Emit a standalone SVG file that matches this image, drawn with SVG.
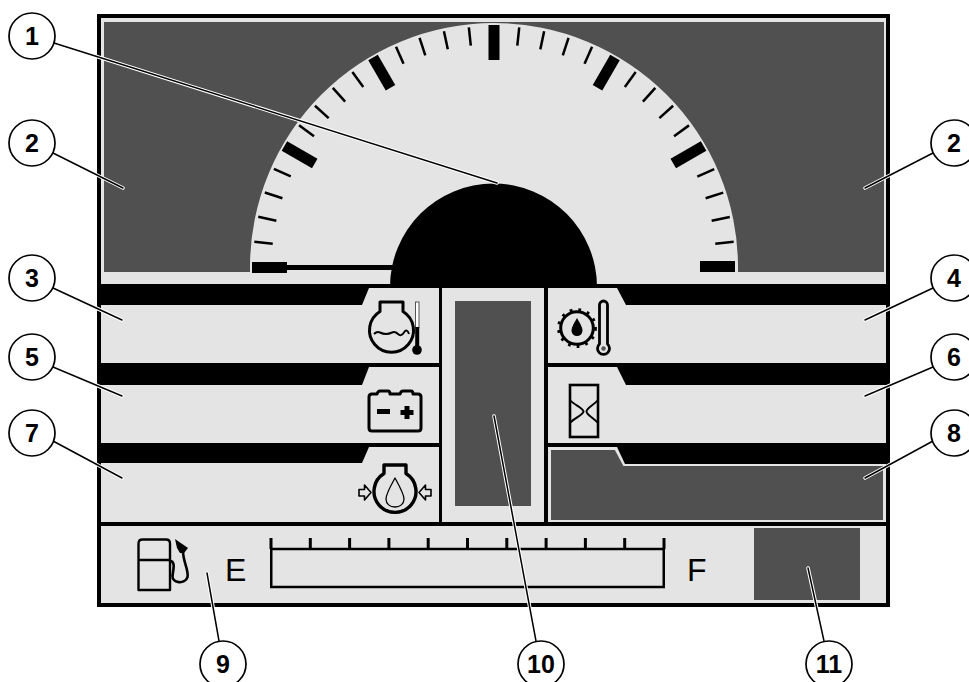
<svg xmlns="http://www.w3.org/2000/svg" width="969" height="682" viewBox="0 0 969 682">
<style>
.k{fill:#000}.l{fill:#e4e4e4}.d{fill:#505050}
.ic{fill:none;stroke:#000;stroke-width:3;stroke-linejoin:round}
.th{fill:none;stroke:#000;stroke-width:1.6;stroke-linejoin:round}
.halo{fill:none;stroke:#fff;stroke-width:3.6;stroke-linecap:round}
.core{fill:none;stroke:#000;stroke-width:1.5;stroke-linecap:round}
.c{fill:#fff;stroke:#000;stroke-width:1.7}
.n{font-family:"Liberation Sans",Arial,sans-serif;font-weight:bold;font-size:25px;text-anchor:middle;fill:#000}
.t{font-family:"Liberation Sans",Arial,sans-serif;font-size:32px;fill:#000}
</style>
<defs>
<rect id="minor" x="492.8" y="26" width="2.5" height="18.500" fill="#000"/>
<rect id="major" x="488.5" y="25" width="11" height="35" fill="#000"/>
<rect id="ft" x="-1.5" y="538" width="3" height="11" fill="#000"/>
</defs>

<rect class="k" x="97" y="14" width="793" height="593"/>
<g id="display">
<rect class="l" x="101" y="18" width="785" height="266"/>
<rect class="d" x="104" y="22" width="780" height="250"/>
</g>
<g id="speedometer">
<path class="l" d="M250 272V267A244 244 0 0 1 738 267V272Z"/>
<g>
<use href="#minor" transform="rotate(-84 494 267)"/><use href="#minor" transform="rotate(-78 494 267)"/><use href="#minor" transform="rotate(-72 494 267)"/><use href="#minor" transform="rotate(-66 494 267)"/>
<use href="#minor" transform="rotate(-54 494 267)"/><use href="#minor" transform="rotate(-48 494 267)"/><use href="#minor" transform="rotate(-42 494 267)"/><use href="#minor" transform="rotate(-36 494 267)"/>
<use href="#minor" transform="rotate(-24 494 267)"/><use href="#minor" transform="rotate(-18 494 267)"/><use href="#minor" transform="rotate(-12 494 267)"/><use href="#minor" transform="rotate(-6 494 267)"/>
<use href="#minor" transform="rotate(6 494 267)"/><use href="#minor" transform="rotate(12 494 267)"/><use href="#minor" transform="rotate(18 494 267)"/><use href="#minor" transform="rotate(24 494 267)"/>
<use href="#minor" transform="rotate(36 494 267)"/><use href="#minor" transform="rotate(42 494 267)"/><use href="#minor" transform="rotate(48 494 267)"/><use href="#minor" transform="rotate(54 494 267)"/>
<use href="#minor" transform="rotate(66 494 267)"/><use href="#minor" transform="rotate(72 494 267)"/><use href="#minor" transform="rotate(78 494 267)"/><use href="#minor" transform="rotate(84 494 267)"/>
<use href="#major" transform="rotate(-60 494 267)"/><use href="#major" transform="rotate(-30 494 267)"/><use href="#major"/><use href="#major" transform="rotate(30 494 267)"/><use href="#major" transform="rotate(60 494 267)"/>
</g>
<rect class="k" x="252" y="262" width="35" height="11"/>
<rect class="k" x="700" y="261" width="35" height="11"/>
<rect class="k" x="287" y="265" width="106" height="5"/>
<path class="k" d="M390 288V287A103.5 103.5 0 0 1 597 287V288Z"/>
</g>

<g id="panel-coolant"><path class="l" d="M101 305H362L369 288H439V363H101Z"/>
<g id="icon-coolant">
<path class="ic" d="M380 302H403V311.5A22 22 0 1 1 380 311.5Z"/>
<path class="th" style="stroke-width:2" d="M374 334q3 -3 6 -1.500t6 1.500t6 -1.500t6 1.500t6 -1.500t5 1.500"/>
<rect x="415.5" y="302" width="3.5" height="26" fill="#fff" stroke="#555" stroke-width="1"/>
<rect class="k" x="415.2" y="327" width="4" height="20"/><circle class="k" cx="417" cy="350" r="4.800"/>
</g></g>
<g id="panel-battery"><path class="l" d="M101 385H362L369 367H439V443H101Z"/>
<g id="icon-battery">
<path class="ic" d="M372 394H377Q378 391 380 391H388Q390 391 390 394H400Q401 391 403 391H411Q413 391 413 394H418Q421 394 421 397V428Q421 431 418 431H372Q369 431 369 428V397Q369 394 372 394Z"/>
<rect class="k" x="377" y="409" width="13" height="5"/>
<path class="k" d="M404.500 406h5v4h4v5h-4v4h-5v-4h-4v-5h4z"/>
</g></g>
<g id="panel-oil-pressure"><path class="l" d="M101 463H362L369 447H439V522H101Z"/>
<g id="icon-oil-pressure">
<path class="ic" style="stroke-width:3.400" d="M384 465H406V473.500A21 21 0 1 1 384 473.500Z"/>
<path class="th" style="stroke-width:1.300" d="M395 478C390 487 386 494 386 499C386 504 390 507 395 507C400 507 404 504 404 499C404 494 400 487 395 478Z"/>
<path class="th" d="M359 489.500H364.500V485L371 492.500L364.500 500V496H359Z"/>
<path class="th" d="M431 489.500H425.500V485L419 492.500L425.500 500V496H431Z"/>
</g></g>

<g id="panel-center"><rect class="l" x="442" y="288" width="102" height="234"/><rect class="d" x="455" y="301" width="76" height="205"/></g>

<g id="panel-oil-temp"><path class="l" d="M886 305H626L617 288H548V363H886Z"/>
<g id="icon-oil-temp">
<circle cx="577" cy="328" r="16.300" fill="none" stroke="#000" stroke-width="3"/>
<circle cx="577" cy="328" r="18.500" fill="none" stroke="#000" stroke-width="2.800" stroke-dasharray="2.800 6.000"/>
<path class="k" d="M577 318C573 325 571.500 328 571.500 330.500A5.500 5.500 0 0 0 582.500 330.500C582.500 328 581 325 577 318Z"/>
<path class="ic" style="stroke-width:2.800" d="M599.500 344V305A4 4 0 0 1 607.500 305V344A6 6 0 1 1 599.500 344Z"/>
<circle cx="603.500" cy="348.500" r="2.200" fill="#555"/>
</g></g>
<g id="panel-hours"><path class="l" d="M886 385H626L617 367H548V443H886Z"/>
<g id="icon-hours">
<rect x="570" y="385" width="28" height="52" fill="none" stroke="#000" stroke-width="2.600"/>
<path class="th" style="stroke-width:2" d="M570 400C574 405 583.500 408 583.500 411.500C583.500 415 574 418 570 423M598 400C594 405 586.500 408 586.500 411.500C586.500 415 594 418 598 423"/>
</g></g>
<g id="panel-message"><rect class="l" x="548" y="447" width="338" height="75"/><path fill="#505050" stroke="#e4e4e4" stroke-width="2" d="M550 449H615.500L624 465H884V521H550Z"/></g>
<path class="k" d="M617 447H890V464H625Z"/>

<g id="panel-fuel">
<rect class="l" x="101" y="526" width="785" height="77"/>
<g id="icon-fuel">
<path class="th" style="stroke-width:2.400" d="M138.500 590V543.500Q138.500 539.500 142.500 539.500H166Q170 539.500 170 543.500V590ZM138.500 560H170"/>
<path class="ic" style="stroke-width:2.600" d="M170 561C176 561 173 571 172.500 576C172 583 185 585 187.500 577C189 570 183 562 183 551"/>
<path class="k" d="M175 539L188 548L184 553L180 553L177 548Z"/>
</g>
<text class="t" x="225" y="581">E</text>
<path d="M271.250 549H663.750V587H271.250Z" fill="none" stroke="#000" stroke-width="2.500"/>
<use href="#ft" x="271"/><use href="#ft" x="310.300"/><use href="#ft" x="349.600"/><use href="#ft" x="388.900"/><use href="#ft" x="428.200"/><use href="#ft" x="467.500"/><use href="#ft" x="506.800"/><use href="#ft" x="546.100"/><use href="#ft" x="585.400"/><use href="#ft" x="624.700"/><use href="#ft" x="664"/>
<text class="t" x="687" y="581">F</text>
<rect class="d" x="754" y="528" width="106" height="72"/>
</g>

<g id="connectors">
<g class="halo">
<path d="M54 43L497 183"/><path d="M53 153L123 188"/><path d="M933 153L865 188"/><path d="M53 288L122 320"/><path d="M933 288L865 320"/><path d="M53 367L122 396"/><path d="M933 367L865 396"/><path d="M53 441L122 478"/><path d="M933 441L865 478"/><path d="M219 641L207 573"/><path d="M536 641L494 416"/><path d="M824 641L808 568"/>
</g>
<g class="core">
<path d="M54 43L497 183"/><path d="M53 153L123 188"/><path d="M933 153L865 188"/><path d="M53 288L122 320"/><path d="M933 288L865 320"/><path d="M53 367L122 396"/><path d="M933 367L865 396"/><path d="M53 441L122 478"/><path d="M933 441L865 478"/><path d="M219 641L207 573"/><path d="M536 641L494 416"/><path d="M824 641L808 568"/>
</g>
</g>

<g id="callout-1"><circle class="c" cx="32" cy="36" r="23"/><text class="n" x="32" y="45">1</text></g>
<g id="callout-2a"><circle class="c" cx="32" cy="143" r="23"/><text class="n" x="32" y="152">2</text></g>
<g id="callout-2b"><circle class="c" cx="954" cy="143" r="23"/><text class="n" x="954" y="152">2</text></g>
<g id="callout-3"><circle class="c" cx="32" cy="278" r="23"/><text class="n" x="32" y="287">3</text></g>
<g id="callout-4"><circle class="c" cx="954" cy="278" r="23"/><text class="n" x="954" y="287">4</text></g>
<g id="callout-5"><circle class="c" cx="32" cy="357" r="23"/><text class="n" x="32" y="366">5</text></g>
<g id="callout-6"><circle class="c" cx="954" cy="357" r="23"/><text class="n" x="954" y="366">6</text></g>
<g id="callout-7"><circle class="c" cx="32" cy="433" r="23"/><text class="n" x="32" y="442">7</text></g>
<g id="callout-8"><circle class="c" cx="954" cy="433" r="23"/><text class="n" x="954" y="442">8</text></g>
<g id="callout-9"><circle class="c" cx="223" cy="664" r="23"/><text class="n" x="223" y="673">9</text></g>
<g id="callout-10"><circle class="c" cx="541" cy="664" r="23"/><text class="n" x="541" y="673">10</text></g>
<g id="callout-11"><circle class="c" cx="829" cy="664" r="23"/><text class="n" x="829" y="673">11</text></g>
</svg>
